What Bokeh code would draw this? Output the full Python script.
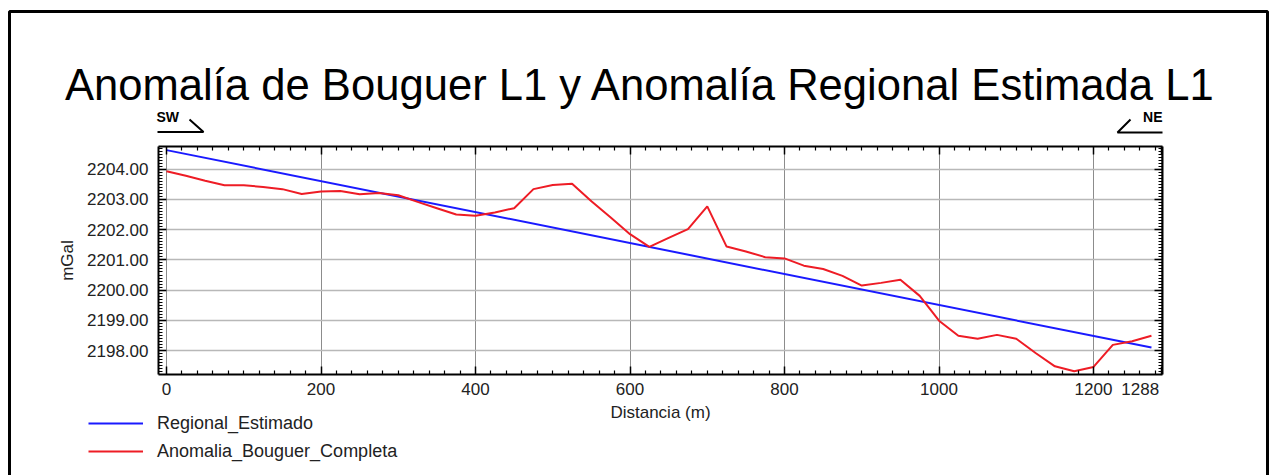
from bokeh.plotting import figure
from bokeh.models import (Range1d, LinearAxis, FixedTicker, PrintfTickFormatter,
                          Label, PolyAnnotation, BoxAnnotation, Legend, LegendItem)
from bokeh.embed import file_html
from bokeh.resources import INLINE

# ---------------- data ----------------
distancia = [0, 25, 50, 75, 100, 125, 150, 175, 200, 225, 250, 275, 300, 325, 350,
             375, 400, 425, 450, 475, 500, 525, 550, 575, 600, 625, 650, 675, 700,
             725, 750, 775, 800, 825, 850, 875, 900, 925, 950, 975, 1000, 1025,
             1050, 1075, 1100, 1125, 1150, 1175, 1200, 1225, 1250, 1275]
anomalia_bouguer = [2203.93, 2203.78, 2203.62, 2203.47, 2203.47, 2203.41, 2203.34,
                    2203.18, 2203.26, 2203.28, 2203.17, 2203.21, 2203.14, 2202.92,
                    2202.71, 2202.50, 2202.46, 2202.57, 2202.71, 2203.34, 2203.48,
                    2203.52, 2202.94, 2202.40, 2201.85, 2201.43, 2201.73, 2202.02,
                    2202.77, 2201.44, 2201.28, 2201.09, 2201.05, 2200.81, 2200.70,
                    2200.47, 2200.15, 2200.24, 2200.34, 2199.81, 2198.99, 2198.49,
                    2198.39, 2198.52, 2198.39, 2197.92, 2197.48, 2197.32, 2197.46,
                    2198.19, 2198.31, 2198.49]
distancia_regional = [0, 1275]
regional_estimado = [2204.63, 2198.10]

x_major = [0, 200, 400, 600, 800, 1000, 1200, 1288]
y_major = [2198, 2199, 2200, 2201, 2202, 2203, 2204]

title_text = "Anomalía de Bouguer L1 y Anomalía Regional Estimada L1"
FONT = "Liberation Sans"

# ---------------- layout constants (canvas pixels) ----------------
W, H = 1270, 475
FL, FR, FT, FB = 158, 1162, 146, 374          # chart box edges
X0, X1 = -10.4, 1289.3                         # chart box in data units
Y0, Y1 = 2197.21, 2204.75

kx = (FR - FL) / (X1 - X0)
ky = (FB - FT) / (Y1 - Y0)
full_x = Range1d(X0 - FL / kx, X1 + (W - FR) / kx)
full_y = Range1d(Y0 - (H - FB) / ky, Y1 + FT / ky)

p = figure(width=W, height=H, output_backend="svg", toolbar_location=None,
           x_range=full_x, y_range=full_y, min_border=0,
           x_axis_location=None, y_axis_location=None)
p.background_fill_color = "white"
p.border_fill_color = "white"
p.outline_line_color = None

x_minor = [v for v in range(0, 1290, 20) if v not in x_major]
y_minor = [round(2197.3 + 0.1 * i, 2) for i in range(75)]
y_minor = [v for v in y_minor if abs(v - round(v)) > 1e-6]

xt = FixedTicker(ticks=x_major, minor_ticks=x_minor)
yt = FixedTicker(ticks=y_major, minor_ticks=y_minor)


def style_axis(ax, labels=True):
    ax.axis_line_color = "black"
    ax.axis_line_width = 2
    ax.major_tick_in = 8
    ax.major_tick_out = 0
    ax.minor_tick_in = 4
    ax.minor_tick_out = 0
    ax.major_tick_line_color = "black"
    ax.major_tick_line_width = 1.5
    ax.minor_tick_line_color = "black"
    ax.minor_tick_line_width = 1.2
    ax.major_label_text_font = FONT
    ax.major_label_text_font_size = "17px"
    ax.major_label_text_color = "#222222"
    ax.axis_label_text_font = FONT
    ax.axis_label_text_font_size = "17px"
    ax.axis_label_text_font_style = "normal"
    ax.axis_label_text_color = "#222222"
    if not labels:
        ax.major_label_text_color = None


xb = LinearAxis(ticker=xt, axis_label="Distancia (m)", fixed_location=Y0, bounds=(X0, X1),
                major_label_overrides={1288: "1288" + "\u00a0" * 9})
style_axis(xb)
xb.major_label_standoff = 5
xb.axis_label_standoff = 1
p.add_layout(xb, "below")

yl = LinearAxis(ticker=yt, axis_label="mGal", formatter=PrintfTickFormatter(format="%.2f"),
                fixed_location=X0, bounds=(Y0, Y1))
style_axis(yl)
yl.major_label_standoff = 10
yl.axis_label_standoff = 7
p.add_layout(yl, "left")

xa = LinearAxis(ticker=xt, fixed_location=Y1, bounds=(X0, X1))
style_axis(xa, labels=False)
p.add_layout(xa, "above")

yr = LinearAxis(ticker=yt, fixed_location=X1, bounds=(Y0, Y1))
style_axis(yr, labels=False)
p.add_layout(yr, "right")

p.xgrid.ticker = xt
p.ygrid.ticker = yt
p.xgrid.bounds = (X0, X1)
p.ygrid.bounds = (Y0, Y1)
p.xgrid.cross_bounds = (Y0, Y1)
p.ygrid.cross_bounds = (X0, X1)
p.xgrid.grid_line_color = "#8c8c8c"
p.xgrid.grid_line_width = 1
p.ygrid.grid_line_color = "#b8b8b8"
p.ygrid.grid_line_width = 1.5

r_reg = p.line(distancia_regional, regional_estimado, line_color="#1a1aff", line_width=2)
r_bou = p.line(distancia, anomalia_bouguer, line_color="#ee1c25", line_width=2)


# ---------------- annotations (screen units = canvas pixels, y measured upward)
def sy(y):
    return H - y


p.add_layout(Label(x=640, y=sy(84), x_units="screen", y_units="screen",
                   text=title_text, text_font=FONT, text_font_size="43.6px",
                   text_align="center", text_baseline="alphabetic", text_color="black"))

p.add_layout(Label(x=156, y=sy(116), x_units="screen", y_units="screen",
                   text="SW", text_font=FONT, text_font_size="14px", text_font_style="bold",
                   text_align="left", text_baseline="alphabetic", text_color="black"))
p.add_layout(Label(x=1162, y=sy(116), x_units="screen", y_units="screen",
                   text="NE", text_font=FONT, text_font_size="14px", text_font_style="bold",
                   text_align="right", text_baseline="alphabetic", text_color="black"))

p.add_layout(PolyAnnotation(xs=[157, 203, 189, 203], ys=[sy(131.5), sy(131.5), sy(119), sy(131.5)],
                            xs_units="screen", ys_units="screen",
                            line_color="black", line_alpha=1, line_width=2, fill_alpha=0))
p.add_layout(PolyAnnotation(xs=[1162, 1117, 1130, 1117], ys=[sy(132), sy(132), sy(119), sy(132)],
                            xs_units="screen", ys_units="screen",
                            line_color="black", line_alpha=1, line_width=2, fill_alpha=0))

# outer border of the sheet
p.add_layout(BoxAnnotation(left=9, right=1267, top=sy(11), bottom=sy(490),
                           left_units="screen", right_units="screen",
                           top_units="screen", bottom_units="screen",
                           fill_alpha=0, line_color="black", line_alpha=1, line_width=3))

legend = Legend(items=[LegendItem(label="Regional_Estimado", renderers=[r_reg]),
                       LegendItem(label="Anomalia_Bouguer_Completa", renderers=[r_bou])],
                location=(88, sy(462)))
legend.padding = 0
legend.margin = 0
legend.spacing = 6
legend.glyph_width = 55
legend.glyph_height = 22
legend.label_standoff = 14
legend.label_text_font = FONT
legend.label_text_font_size = "18px"
legend.label_text_color = "#222222"
legend.border_line_alpha = 0
legend.background_fill_alpha = 0
p.add_layout(legend)

open("out.html", "w").write(file_html(p, INLINE))
